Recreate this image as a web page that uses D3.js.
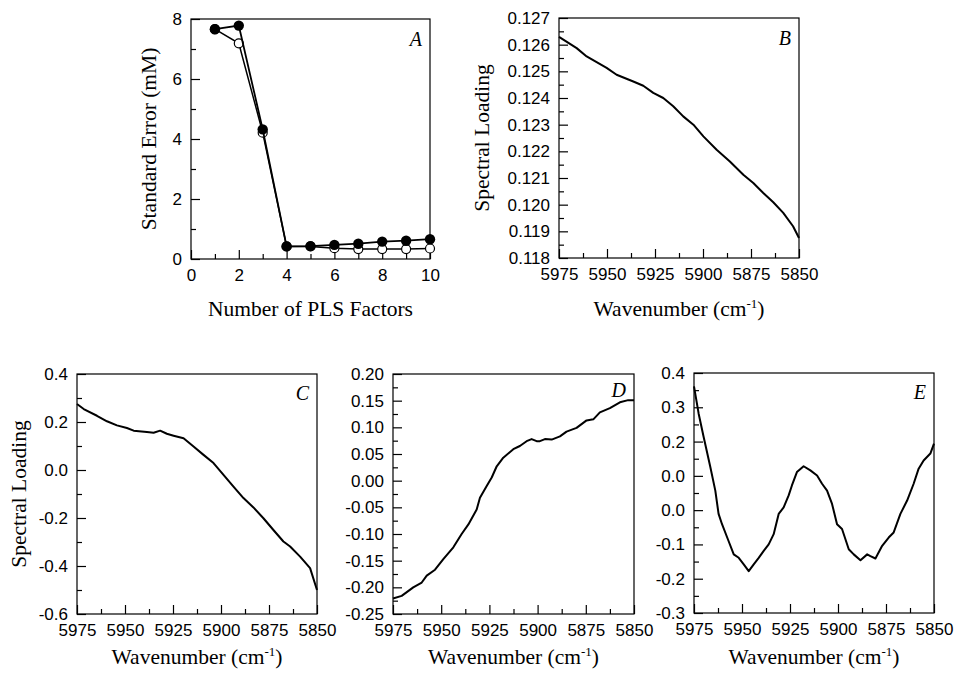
<!DOCTYPE html>
<html>
<head>
<meta charset="utf-8">
<script src="https://cdn.jsdelivr.net/npm/d3@7"></script>
<style>
  body { margin: 0; background: #fff; }
  .tick text { font-family: "Liberation Sans", Arial, sans-serif; font-size: 17px; fill: #000; }
  .tick line { stroke: #000; stroke-width: 1.2; }
  .title { font-family: "Liberation Serif", "Times New Roman", serif; font-size: 21.5px; fill: #000; }
  .letter { font-family: "Liberation Serif", "Times New Roman", serif; font-size: 20px; font-style: italic; fill: #000; }
</style>
</head>
<body>
<script>
// Panel A: standard error vs number of PLS factors
var factors = [1, 2, 3, 4, 5, 6, 7, 8, 9, 10];
var seFilled = [7.66, 7.78, 4.32, 0.42, 0.43, 0.47, 0.51, 0.58, 0.61, 0.66];
var seOpen = [7.66, 7.19, 4.21, 0.42, 0.42, 0.36, 0.33, 0.33, 0.33, 0.35];
var aXTicks = [0, 2, 4, 6, 8, 10];
var aYTicks = [0, 2, 4, 6, 8];

// Panel B: loading 1
var bWave = [5975, 5965.8, 5960.6, 5950.2, 5945, 5936.3, 5931.1, 5925.9, 5920.7, 5915.5, 5910.3, 5905, 5899.8, 5892.9, 5886, 5879, 5873.8, 5868.6, 5863.4, 5858.2, 5853.1, 5850];
var bLoad = [0.12629, 0.12587, 0.12556, 0.12513, 0.12487, 0.12462, 0.12446, 0.12419, 0.12400, 0.12369, 0.12331, 0.12300, 0.12256, 0.12206, 0.12162, 0.12112, 0.12081, 0.12044, 0.12009, 0.11969, 0.11919, 0.11875];
var bYTicks = ["0.118", "0.119", "0.120", "0.121", "0.122", "0.123", "0.124", "0.125", "0.126", "0.127"];

// Panel C: loading 2
var cWave = [5975, 5971.5, 5964.6, 5959.4, 5954.2, 5949, 5945.5, 5938.6, 5935.1, 5931.7, 5928.2, 5924.7, 5919.5, 5914.3, 5909.1, 5903.9, 5898.7, 5893.5, 5888.3, 5883.1, 5877.9, 5872.7, 5867.5, 5864, 5858.8, 5853.6, 5850];
var cLoad = [0.275, 0.254, 0.226, 0.203, 0.186, 0.175, 0.164, 0.158, 0.155, 0.164, 0.151, 0.143, 0.132, 0.098, 0.063, 0.029, -0.020, -0.069, -0.117, -0.156, -0.201, -0.250, -0.298, -0.319, -0.361, -0.409, -0.500];
var cYTicks = ["-0.6", "-0.4", "-0.2", "0.0", "0.2", "0.4"];

// Panel D: loading 3
var dWave = [5975, 5970.5, 5964.5, 5960.1, 5957.5, 5953.2, 5948.9, 5943.7, 5939.4, 5935.9, 5931.6, 5929.9, 5926.4, 5923.8, 5921.2, 5917.8, 5912.6, 5909.2, 5905.7, 5903.1, 5900.5, 5898.8, 5896.2, 5892.7, 5888.4, 5885, 5879.8, 5874.6, 5871.1, 5867.7, 5862.5, 5857.3, 5853, 5850];
var dLoad = [-0.221, -0.216, -0.200, -0.191, -0.178, -0.167, -0.147, -0.125, -0.100, -0.082, -0.054, -0.032, -0.010, 0.006, 0.027, 0.043, 0.059, 0.065, 0.074, 0.078, 0.074, 0.074, 0.078, 0.077, 0.083, 0.092, 0.099, 0.113, 0.115, 0.128, 0.136, 0.147, 0.151, 0.151];
var dYTicks = ["-0.25", "-0.20", "-0.15", "-0.10", "-0.05", "0.00", "0.05", "0.10", "0.15", "0.20"];

// Panel E: loading 4
var eWave = [5975, 5972.6, 5970, 5966.5, 5963.9, 5962.2, 5960.4, 5957, 5954.3, 5951.7, 5949.1, 5946.5, 5943.9, 5941.3, 5938.7, 5936.1, 5933.5, 5930.9, 5928.3, 5925.7, 5924, 5921.4, 5917.9, 5914.4, 5910.9, 5908.3, 5905.7, 5903.1, 5900.5, 5897.9, 5894.4, 5891.8, 5888.3, 5884.8, 5883.1, 5880.5, 5877, 5873.6, 5871, 5867.5, 5864, 5860.6, 5858, 5855.4, 5851.9, 5850];
var eLoad = [0.361, 0.282, 0.214, 0.126, 0.057, -0.011, -0.041, -0.090, -0.129, -0.139, -0.158, -0.178, -0.158, -0.139, -0.119, -0.100, -0.070, -0.011, 0.008, 0.043, 0.072, 0.111, 0.128, 0.116, 0.101, 0.077, 0.057, 0.018, -0.041, -0.055, -0.114, -0.129, -0.146, -0.129, -0.134, -0.141, -0.104, -0.080, -0.065, -0.011, 0.028, 0.077, 0.121, 0.145, 0.165, 0.194];
// tick labels exactly as printed in the figure
var eYTicks = ["-0.3", "-0.2", "-0.1", "0.0", "0.0", "0.2", "0.3", "0.4"];

var waveTicks = ["5975", "5950", "5925", "5900", "5875", "5850"];

var svg = d3.select("body").append("svg")
    .attr("width", 956)
    .attr("height", 675);

function range(a, b, step) {
    var out = [];
    for (var v = a; v <= b + step / 1000; v += step) out.push(+v.toFixed(6));
    return out;
}

function drawPanel(p) {
    var x = d3.scaleLinear().domain(p.xDomain).range([p.left, p.left + p.w]);
    var y = d3.scaleLinear().domain(p.yDomain).range([p.top + p.h, p.top]);

    // minor ticks
    svg.append("g")
        .attr("transform", "translate(0," + (p.top + p.h) + ")")
        .call(d3.axisBottom(x).tickValues(p.xMinor).tickSize(-5).tickFormat(""))
        .call(function(g) { g.select(".domain").remove(); });
    svg.append("g")
        .attr("transform", "translate(" + p.left + ",0)")
        .call(d3.axisLeft(y).tickValues(p.yMinor).tickSize(-5).tickFormat(""))
        .call(function(g) { g.select(".domain").remove(); });

    // major ticks with labels
    svg.append("g")
        .attr("transform", "translate(0," + (p.top + p.h) + ")")
        .call(d3.axisBottom(x).tickValues(p.xMajor).tickSize(-9).tickPadding(10)
            .tickFormat(function(d, i) { return p.xLabels[i]; }))
        .call(function(g) { g.select(".domain").remove(); });
    svg.append("g")
        .attr("transform", "translate(" + p.left + ",0)")
        .call(d3.axisLeft(y).tickValues(p.yMajor).tickSize(-9).tickPadding(9)
            .tickFormat(function(d, i) { return p.yLabels[i]; }))
        .call(function(g) { g.select(".domain").remove(); });

    // frame
    svg.append("rect")
        .attr("x", p.left).attr("y", p.top)
        .attr("width", p.w).attr("height", p.h)
        .attr("fill", "none")
        .attr("stroke", "#000")
        .attr("stroke-width", 1.2);

    // panel letter
    svg.append("text")
        .attr("class", "letter")
        .attr("x", p.left + p.w - 8)
        .attr("y", p.letterY)
        .attr("text-anchor", "end")
        .text(p.letter);

    // x title
    var xt = svg.append("text")
        .attr("class", "title")
        .attr("x", p.left + p.w / 2)
        .attr("y", p.xTitleY)
        .attr("text-anchor", "middle");
    if (p.superscript) {
        xt.append("tspan").text("Wavenumber (cm");
        xt.append("tspan").attr("dy", -8).style("font-size", "13px").text("-1");
        xt.append("tspan").attr("dy", 8).text(")");
    } else {
        xt.text(p.xTitle);
    }

    // y title
    if (p.yTitle) {
        svg.append("text")
            .attr("class", "title")
            .attr("transform", "translate(" + p.yTitleX + "," + (p.top + p.h / 2) + ") rotate(-90)")
            .attr("text-anchor", "middle")
            .text(p.yTitle);
    }

    return { x: x, y: y };
}

// Panel A
var a = drawPanel({
    left: 191, top: 19, w: 239, h: 240,
    xDomain: [0, 10], yDomain: [0, 8],
    xMajor: aXTicks, xMinor: [1, 3, 5, 7, 9], xLabels: aXTicks.map(String),
    yMajor: aYTicks, yMinor: [1, 3, 5, 7], yLabels: aYTicks.map(String),
    letter: "A", letterY: 46,
    xTitle: "Number of PLS Factors", xTitleY: 316,
    yTitle: "Standard Error (mM)", yTitleX: 156
});

var lineA = d3.line()
    .x(function(d) { return a.x(d[0]); })
    .y(function(d) { return a.y(d[1]); });

var openPts = d3.zip(factors, seOpen);
var filledPts = d3.zip(factors, seFilled);

svg.append("path").datum(openPts)
    .attr("d", lineA).attr("fill", "none").attr("stroke", "#000").attr("stroke-width", 1.5);
svg.selectAll(".open").data(openPts).enter().append("circle")
    .attr("class", "open")
    .attr("cx", function(d) { return a.x(d[0]); })
    .attr("cy", function(d) { return a.y(d[1]); })
    .attr("r", 4.5)
    .attr("fill", "#fff").attr("stroke", "#000").attr("stroke-width", 1.2);

svg.append("path").datum(filledPts)
    .attr("d", lineA).attr("fill", "none").attr("stroke", "#000").attr("stroke-width", 1.8);
svg.selectAll(".filled").data(filledPts).enter().append("circle")
    .attr("class", "filled")
    .attr("cx", function(d) { return a.x(d[0]); })
    .attr("cy", function(d) { return a.y(d[1]); })
    .attr("r", 5.2)
    .attr("fill", "#000");

var waveMajor = [5975, 5950, 5925, 5900, 5875, 5850];
var waveMinor = [5962.5, 5937.5, 5912.5, 5887.5, 5862.5];

function drawCurve(sc, wave, load) {
    var line = d3.line()
        .x(function(d) { return sc.x(d[0]); })
        .y(function(d) { return sc.y(d[1]); });
    svg.append("path").datum(d3.zip(wave, load))
        .attr("d", line)
        .attr("fill", "none")
        .attr("stroke", "#000")
        .attr("stroke-width", 2)
        .attr("stroke-linejoin", "round");
}

// Panel B
var b = drawPanel({
    left: 559, top: 18, w: 240, h: 240,
    xDomain: [5975, 5850], yDomain: [0.118, 0.127],
    xMajor: waveMajor, xMinor: waveMinor, xLabels: waveTicks,
    yMajor: range(0.118, 0.127, 0.001), yMinor: range(0.1185, 0.1265, 0.001), yLabels: bYTicks,
    letter: "B", letterY: 45,
    superscript: true, xTitleY: 316,
    yTitle: "Spectral Loading", yTitleX: 489
});
drawCurve(b, bWave, bLoad);

// Panel C
var c = drawPanel({
    left: 77, top: 374, w: 240, h: 240,
    xDomain: [5975, 5850], yDomain: [-0.6, 0.4],
    xMajor: waveMajor, xMinor: waveMinor, xLabels: waveTicks,
    yMajor: range(-0.6, 0.4, 0.2), yMinor: range(-0.5, 0.3, 0.2), yLabels: cYTicks,
    letter: "C", letterY: 400,
    superscript: true, xTitleY: 664,
    yTitle: "Spectral Loading", yTitleX: 26
});
drawCurve(c, cWave, cLoad);

// Panel D
var dd = drawPanel({
    left: 393, top: 374, w: 241, h: 240,
    xDomain: [5975, 5850], yDomain: [-0.25, 0.20],
    xMajor: waveMajor, xMinor: waveMinor, xLabels: waveTicks,
    yMajor: range(-0.25, 0.20, 0.05), yMinor: range(-0.225, 0.175, 0.05), yLabels: dYTicks,
    letter: "D", letterY: 397,
    superscript: true, xTitleY: 664
});
drawCurve(dd, dWave, dLoad);

// Panel E
var e = drawPanel({
    left: 694, top: 373, w: 240, h: 240,
    xDomain: [5975, 5850], yDomain: [-0.3, 0.4],
    xMajor: waveMajor, xMinor: waveMinor, xLabels: waveTicks,
    yMajor: range(-0.3, 0.4, 0.1), yMinor: range(-0.25, 0.35, 0.1), yLabels: eYTicks,
    letter: "E", letterY: 399,
    superscript: true, xTitleY: 664
});
drawCurve(e, eWave, eLoad);
</script>
</body>
</html>
